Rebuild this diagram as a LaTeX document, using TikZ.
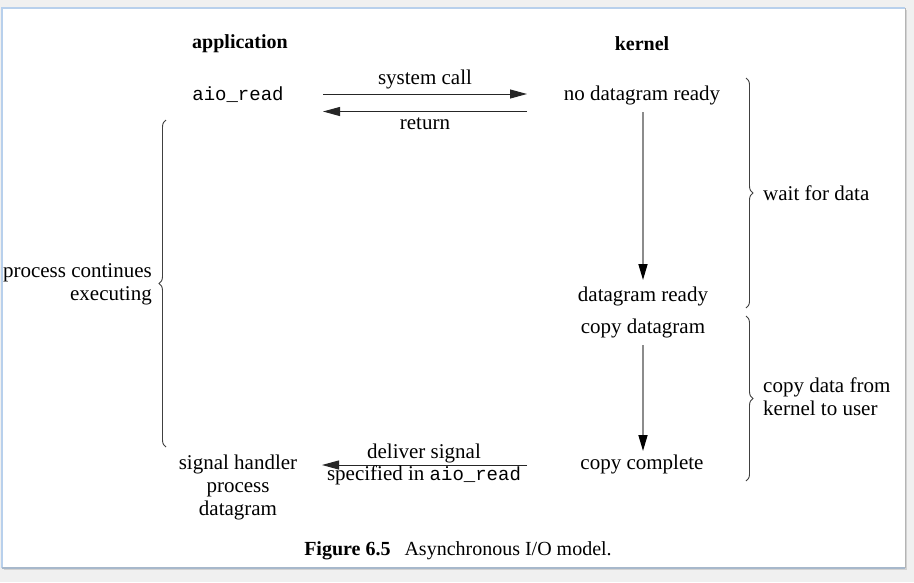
\documentclass[tikz,border=0pt]{standalone}
\usepackage{fontspec}
\setmainfont{Liberation Serif}
\setmonofont{Liberation Mono}
\usetikzlibrary{arrows.meta,decorations.pathreplacing}
\definecolor{outerbg}{HTML}{F0F0F0}
\definecolor{panelblue}{HTML}{B8D0EC}
\definecolor{panelgray}{HTML}{B4B4B4}
\definecolor{arrowgray}{HTML}{8C8C8C}
\begin{document}
\begin{tikzpicture}[x=1pt,y=-1pt,
  lbl/.style={inner sep=0pt,font=\fontsize{21}{23}\selectfont,align=center},
  hdr/.style={lbl,font=\fontsize{20}{23}\selectfont\bfseries},
  harrow/.style={draw=black!85,line width=1pt,-{Triangle[length=17pt,width=9pt]}},
  varrow/.style={draw=arrowgray,line width=1.6pt,-{Triangle[length=16pt,width=9pt,fill=black,color=black]}},
  bracestyle/.style={draw=black!75,line width=0.9pt,decorate,decoration={brace,amplitude=7pt}}
]
\useasboundingbox (0,0) rectangle (914,582);
\fill[outerbg] (0,0) rectangle (914,582);
\fill[panelgray!60] (4,10) rectangle (907,570);
\fill[white] (2,8) rectangle (905,568);
\draw[panelblue,line width=1.2pt] (2,568) -- (2,8) -- (905,8);
\draw[panelblue!70!gray,line width=1.2pt] (2,568) -- (905,568);
\draw[panelgray,line width=1.5pt] (905.5,8) -- (905.5,568);

% headers
\node[hdr] (app) at (240,44) {application};
\node[hdr] (ker) at (642,44) {kernel};

% application side
\node[lbl,font=\fontsize{19}{23}\selectfont\ttfamily] (aio) at (238,95) {aio\_read};
\node[lbl] (sh) at (238,487) {signal handler\\process\\datagram};

% kernel side
\node[lbl] (ndr) at (642,95) {no datagram ready};
\node[lbl] (dr) at (643,296) {datagram ready};
\node[lbl] (cd) at (643,328) {copy datagram};
\node[lbl] (cc) at (642,464) {copy complete};

% horizontal arrows
\coordinate (scA) at (323,94);
\coordinate (scB) at (527,94);
\coordinate (rtA) at (527,111.5);
\coordinate (rtB) at (323,111.5);
\coordinate (dsA) at (527,465);
\coordinate (dsB) at (322,465);
\draw[harrow] (scA) -- node[lbl,above=4pt] (scl) {system call} (scB);
\draw[harrow] (rtA) -- node[lbl,below=6pt] (rtl) {return} (rtB);
\draw[harrow] (dsA) -- (dsB);
\node[lbl] (dsl1) at (424,453) {deliver signal};
\node[lbl] (dsl2) at (424,475) {specified in {\fontsize{19}{23}\selectfont\ttfamily aio\_read}};

% vertical arrows
\coordinate (v1A) at (643,112);
\coordinate (v1B) at (643,280);
\coordinate (v2A) at (643,345);
\coordinate (v2B) at (643,451);
\draw[varrow] (v1A) -- (v1B);
\draw[varrow] (v2A) -- (v2B);

% braces
\draw[bracestyle] (746,78) -- (746,308) node[midway] (b1) {};
\node[lbl,anchor=west] (wfd) at (763,193) {wait for data};
\draw[bracestyle] (746,316) -- (746,481) node[midway] (b2) {};
\node[lbl,anchor=west,align=left] (cdk) at (763,397) {copy data from\\kernel to user};
\draw[bracestyle] (166,447) -- (166,120) node[midway] (b3) {};
\node[lbl,anchor=east,align=right] (pce) at (152,284) {process continues\\executing};

% caption
\node[lbl,font=\fontsize{20}{22}\selectfont] (cap) at (458,551) {\textbf{Figure 6.5}\hspace{0.7em}Asynchronous I/O model.};
\end{tikzpicture}
\end{document}
